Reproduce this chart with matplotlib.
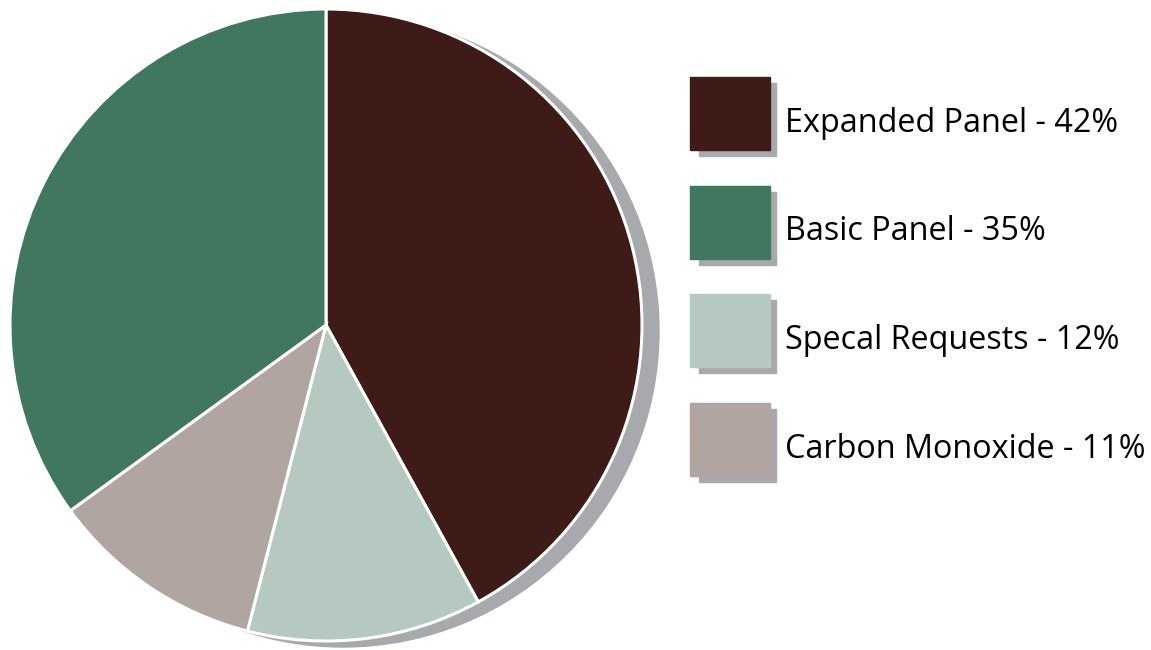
import matplotlib.pyplot as plt
from matplotlib.patches import Circle, Rectangle

# Daten
labels = ["Expanded Panel", "Specal Requests", "Carbon Monoxide", "Basic Panel"]
values = [42, 12, 11, 35]
colors = ["#3e1b16", "#b5c9c0", "#b1a5a1", "#41775f"]

legend_labels = ["Expanded Panel - 42%", "Basic Panel - 35%", "Specal Requests - 12%", "Carbon Monoxide - 11%"]
legend_colors = ["#3e1b16", "#41775f", "#b5c9c0", "#b1a5a1"]

shadow = "#a7a9ac"

W, H = 1151, 650
fig = plt.figure(figsize=(W / 100, H / 100), dpi=100)
ax = fig.add_axes([0, 0, 1, 1])

# Schatten hinter dem Kreis
ax.add_patch(Circle((343, 319), 316, color=shadow, zorder=0))

ax.pie(values, colors=colors, center=(326, 325), radius=316, startangle=90,
       counterclock=False, wedgeprops=dict(edgecolor="white", linewidth=2.2))

# Legende von Hand
box_w, box_h = 80, 73
for i, (lab, col) in enumerate(zip(legend_labels, legend_colors)):
    top = 77 + i * 108.5
    y0 = H - top - box_h
    ax.add_patch(Rectangle((699, y0 - 6), box_w - 3, box_h, color=shadow, zorder=1))
    ax.add_patch(Rectangle((690, y0), box_w, box_h, color=col, zorder=2))
    # Grundlinie ca. 55 px unter Oberkante der Box
    ax.text(785, H - top - 55, lab, fontsize=23.3, family="Open Sans",
            va="baseline", ha="left", color="black")

ax.set_xlim(0, W)
ax.set_ylim(0, H)
ax.set_aspect("equal")
ax.axis("off")

fig.savefig("out.png", dpi=100)
